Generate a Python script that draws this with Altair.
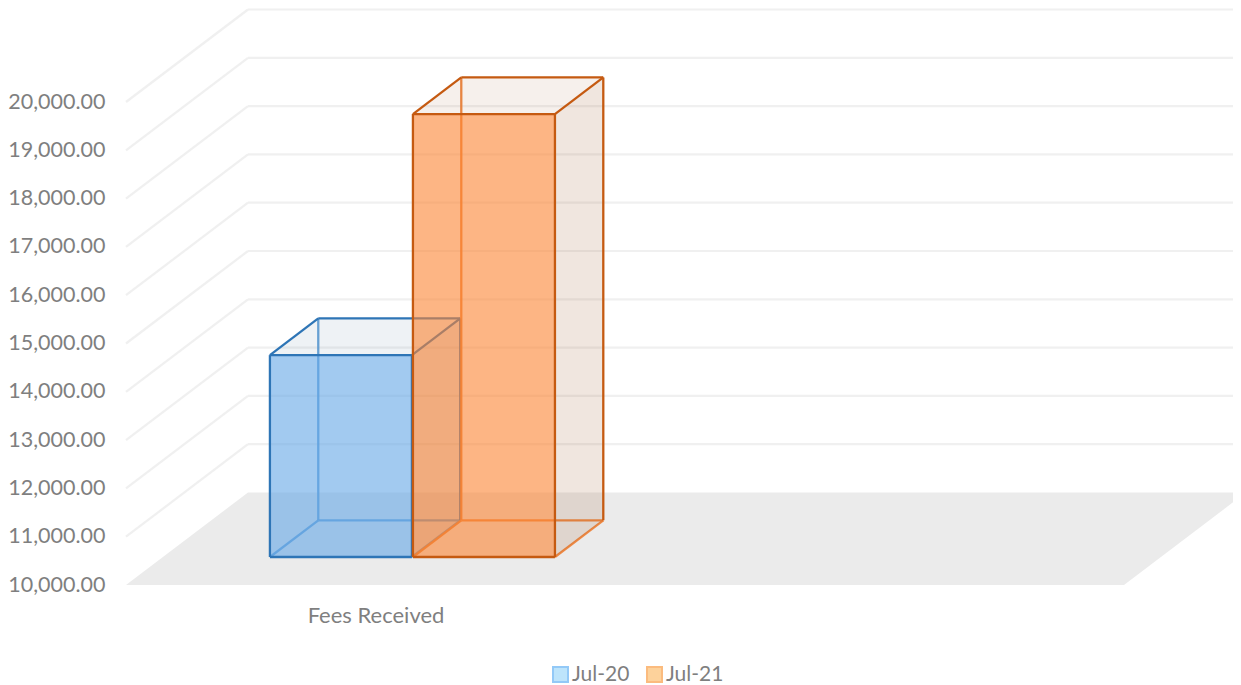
import altair as alt
import pandas as pd

# ---- values
series = ["Jul-20", "Jul-21"]
values = [14180, 19170]
category = ["Fees Received"]
value_ticks = [10000, 11000, 12000, 13000, 14000, 15000, 16000, 17000, 18000, 19000, 20000]

# ---- colours
front_fill = ["#64a7e6", "#fc8432"]
top_fill = ["#3d6a94", "#9c5a2a"]
edge_dark = ["#2e75b6", "#c55a11"]
edge_light = ["#5b9bd5", "#ed7d31"]
legend_fill = ["#bde4fb", "#fdd29b"]
legend_stroke = ["#93c9f7", "#fbbb7e"]
text_col = "#7f7f7f"
FONT = "Lato"

# ---- projection of the pseudo-3D box, in axis units
CAT_PX = 998.0
PX_PER_VAL = 0.0483
DX = 122 / CAT_PX      # one unit of depth, along x
DY = 92.5 / PX_PER_VAL # one unit of depth, along value
X_MAX = 1107 / CAT_PX
Y_MAX = 10000 + 577 / PX_PER_VAL
D_FRONT, D_BACK = 0.3027, 0.699
BAR_U = [0.1072, 0.2505]
BAR_W = 0.1423
BASE = value_ticks[0]
TOP = value_ticks[-1]

x_enc = dict(scale=alt.Scale(domain=[0, X_MAX], nice=False, zero=False))
y_enc = dict(scale=alt.Scale(domain=[BASE, Y_MAX], nice=False, zero=False))


def P(u, d, v):
    return (u + d * DX, v + d * DY)


def poly(points, fill, opacity):
    rows = [{"x": p[0], "y": p[1], "i": k} for k, p in enumerate(points)]
    return alt.Chart(pd.DataFrame(rows)).mark_line(
        interpolate="linear-closed", fill=fill, fillOpacity=opacity, strokeOpacity=0, clip=False
    ).encode(
        x=alt.X("x:Q", **x_enc), y=alt.Y("y:Q", **y_enc), order="i:Q"
    )


def rules(segments, color, width, opacity=1.0):
    rows = [{"x": a[0], "y": a[1], "x2": b[0], "y2": b[1]} for a, b in segments]
    return alt.Chart(pd.DataFrame(rows)).mark_rule(
        stroke=color, strokeWidth=width, strokeOpacity=opacity
    ).encode(
        x=alt.X("x:Q", **x_enc), y=alt.Y("y:Q", **y_enc), x2="x2:Q", y2="y2:Q"
    )


layers = []

# axes carrier + floor
floor = poly([P(0, 0, BASE), P(1, 0, BASE), P(1, 1, BASE), P(0, 1, BASE)], "#ebebeb", 1)
layers.append(floor)

# walls: grid lines
grid_segments = []
for t in value_ticks[1:]:
    grid_segments.append((P(0, 0, t), P(0, 1, t)))
    grid_segments.append((P(0, 1, t), P(1, 1, t)))
layers.append(rules(grid_segments, "#f0f0f0", 2.2))

# boxes
for k, v in enumerate(values):
    u0, u1 = BAR_U[k], BAR_U[k] + BAR_W
    fb, fr, br, bl = P(u0, D_FRONT, BASE), P(u1, D_FRONT, BASE), P(u1, D_BACK, BASE), P(u0, D_BACK, BASE)
    ft, frt, brt, blt = P(u0, D_FRONT, v), P(u1, D_FRONT, v), P(u1, D_BACK, v), P(u0, D_BACK, v)
    # light back edges
    layers.append(rules([(bl, blt), (bl, br), (fb, bl), (fr, br)], edge_light[k], 2.3, 0.9))
    # translucent faces
    layers.append(poly([ft, frt, brt, blt], top_fill[k], 0.09))
    layers.append(poly([fr, br, brt, frt], top_fill[k], 0.15))
    layers.append(poly([fb, fr, frt, ft], front_fill[k], 0.6))
    # dark edges
    layers.append(rules(
        [(fb, fr), (fr, frt), (frt, ft), (ft, fb), (ft, blt), (blt, brt), (brt, frt), (brt, br)],
        edge_dark[k], 2.3
    ))

# axes
axis_base = alt.Chart(pd.DataFrame({"x": [0.0], "y": [BASE]})).mark_point(size=0, opacity=0).encode(
    x=alt.X("x:Q", title=None, scale=x_enc["scale"], axis=alt.Axis(
        values=[0.25], labelExpr="'%s'" % category[0], ticks=False, domain=False, grid=False,
        labelFont=FONT, labelFontSize=22, labelColor=text_col, labelPadding=20, labelAlign="center",
        labelFlush=False,
    )),
    y=alt.Y("y:Q", title=None, scale=y_enc["scale"], axis=alt.Axis(
        values=value_ticks, format=",.2f", ticks=False, domain=False, grid=False,
        labelFont=FONT, labelFontSize=21.5, labelColor=text_col, labelPadding=21,
    )),
)
layers.append(axis_base)

# legend
legend_df = pd.DataFrame({"series": series, "x": [0.0, 0.0], "y": [BASE, BASE]})
legend_layer = alt.Chart(legend_df).mark_point(size=0, filled=True, strokeWidth=2).encode(
    x=alt.X("x:Q", **x_enc),
    y=alt.Y("y:Q", **y_enc),
    fill=alt.Fill("series:N", scale=alt.Scale(domain=series, range=legend_fill), legend=alt.Legend(title=None)),
    stroke=alt.Stroke("series:N", scale=alt.Scale(domain=series, range=legend_stroke), legend=alt.Legend(title=None)),
)
layers.append(legend_layer)

chart = alt.layer(*layers).properties(
    width=1107,
    height=577,
    padding={"left": 118, "top": 0, "right": 0, "bottom": 100},
    autosize=alt.AutoSizeParams(type="none"),
    background="white",
).configure_view(stroke=None).configure_legend(
    orient="none",
    legendX=424,
    legendY=656,
    direction="horizontal",
    symbolType="square",
    symbolSize=225,
    symbolStrokeWidth=2,
    symbolOpacity=1,
    labelFont=FONT,
    labelFontSize=21,
    labelColor=text_col,
    labelOffset=1,
    columnPadding=13,
    padding=0,
)

chart.save("out.html", embed_options={"renderer": "svg", "actions": False})
